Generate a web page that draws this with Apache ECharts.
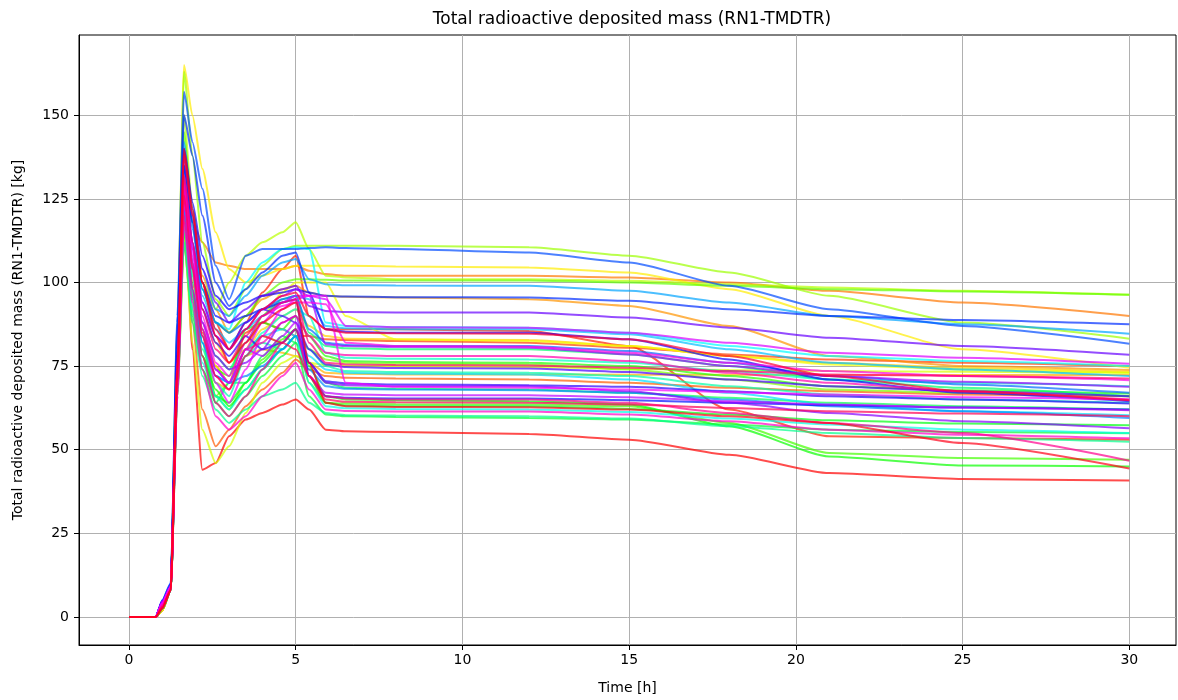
<!DOCTYPE html>
<html>
<head>
<meta charset="utf-8">
<script src="https://cdn.jsdelivr.net/npm/echarts@6/dist/echarts.min.js"></script>
<style>html,body{margin:0;padding:0;background:#fff;overflow:hidden}#c{width:1178px;height:700px}</style>
</head>
<body>
<div id="c"></div>
<script>
// time points [h]
const times = [0, 0.8, 1.0, 1.25, 1.45, 1.65, 1.9, 2.2, 2.6, 3.0, 3.5, 4.0, 4.6, 5.0, 5.4, 5.9, 6.5, 8, 12, 15, 18, 21, 25, 30];
const xTicks = [0, 5, 10, 15, 20, 25, 30];
const yTicks = [0, 25, 50, 75, 100, 125, 150];

const r00 = [0,0,2,8,70,125,80,44,46,54,59,61,63.5,65,62,56,55.5,55.3,54.7,53,48.5,43,41.2,40.8];
const r01 = [0,0,2,9,75,135,118,100,88,80,88,97,104,108,90,86,86,86,85.5,81,62,54,53.5,53];
const r02 = [0,0,2,8,72,120,100,85,75,70,85,88,86,84,84,83,82.8,82.5,82,80.5,78.5,77,76,75];
const r03 = [0,0,2,8,68,112,88,62,51,56,63,68,73,77,74,72,71.5,71.3,71,70,68.5,67.5,66.5,66];
const r04 = [0,0,2,9,76,130,118,112,106,105,104,104,104,105,103.5,102.5,102,102,102,101.5,100,97.5,94,90];
const r05 = [0,0,2,9,80,140,120,102,92,85,90,95,98,99,97,96,95.7,95.5,95,93,87,78,75,73.8];
const r06 = [0,0,2,8,66,115,92,78,70,68,78,80,79,78,76,73,72.7,72.5,72.5,72.4,72.4,72.3,72.3,72.3];
const r07 = [0,0,2,8,70,125,105,92,82,76,80,86,90,92,87,84,83.2,83,82.8,81,78,76,74.5,73.3];
const r08 = [0,0,2,9,85,165,150,134,115,104,100,102,104,105,105,105,105,104.8,104.5,103,98,90,80,74.5];
const r09 = [0,0,2,8,74,128,104,86,75,70,80,90,97,100,100,100,90,83,82.5,81,78,75.5,74,73];
const r10 = [0,0,2,8,68,115,82,56,46,51,61,70,76,78,76,75.3,75,75,74.7,74.2,73.8,73.5,73.3,73];
const r11 = [0,0,2.5,9,82,150,122,100,92,100,108,112,115,118,110,102,101.5,101,101,100.5,99.5,98.5,97.5,96.3];
const r12 = [0,0,2.5,9,86,163,138,112,95,90,98,105,110,111,111,111,111,111,110.5,108,103,96,88,83.2];
const r13 = [0,0,2.5,8,72,128,102,84,66,70,80,84,82,86,80,77,76,75.7,75.5,74,71,68,67,66];
const r14 = [0,0,2.5,9,80,145,118,98,88,85,90,96,100,101,101,100.8,100.6,100.6,100.6,100,99,98,97.3,96.3];
const r15 = [0,0,2.5,8,70,118,92,74,66,62,70,77,83,86,70,64,63.8,63.6,63.5,63,58,49,47.5,47];
const r16 = [0,0,2.5,8,74,132,104,86,74,72,86,88,86,90,84,78,76.5,76.2,76,75,72,69,67.8,66.8];
const r17 = [0,0,2.5,8,72,122,96,78,68,63,68,74,80,84,75,66,65,64.8,64.5,63.5,57,48,45.3,45];
const r18 = [0,0,2.5,8,70,120,95,78,66,64,70,76,82,86,72,64,63.2,63,63,62.2,60.5,58.8,57.8,57.3];
const r19 = [0,0,2.5,8,68,116,90,74,64,60,66,72,78,82,66,60.5,60,59.8,59.5,59,57.5,56,55.3,54.9];
const r20 = [0,0,2.5,8,72,124,98,82,64,70,70,78,84,82,76,70,68.5,68.2,68,67,65.5,64,63,62];
const r21 = [0,0,2.5,8,74,130,106,88,78,74,82,90,95,96,85,81,80.3,80,80,78.5,75,71,68.5,66];
const r22 = [0,0,2.5,8,66,112,88,72,62,58,62,66,68,70,64,61,60.3,60.2,60,59.3,57,55,53.5,52.4];
const r23 = [0,0,2.5,8,70,120,96,80,70,66,78,82,80,84,80,75,73.5,73.2,73,72,69,66.5,65,64];
const r24 = [0,0,2.5,8,72,126,102,84,74,70,78,85,90,92,90,79,77.5,77.2,77,76,73.5,71,70,69];
const r25 = [0,0,3,8,68,118,92,76,66,62,68,74,80,84,70,63,62.4,62.2,62,61.3,59.3,57.5,56,55];
const r26 = [0,0,3,9,80,140,118,98,88,86,100,106,110,110.5,110,88,87,86.7,86.5,85,81,78,76.5,75];
const r27 = [0,0,3,8,70,122,98,82,72,70,80,84,86,84,78,74,73,72.7,72.5,71,67,63.5,61.5,60.3];
const r28 = [0,0,3,9,76,134,112,96,86,82,86,90,94,96,95,87,86.3,86,86,84.5,80,76,74,72];
const r29 = [0,0,3,9,80,142,122,104,92,90,96,102,106,107,101,99.5,99.2,99.1,99,97.5,94,90,87.5,84.7];
const r30 = [0,0,3,8,70,122,98,82,72,70,72,75,80,84,74,69,68.2,68,67.8,67,65,63,61.5,59.5];
const r31 = [0,0,4,9,76,135,116,98,88,85,88,92,95,96,86,82,81.3,81,81,79.5,76,72,69.5,67];
const r32 = [0,0,5,10,90,157,142,128,105,95,108,110,110,110,110.3,110.5,110.3,110,109,106,99,92,87,81.7];
const r33 = [0,0,5,10,88,150,138,120,100,93,98,103,108,109,97,96,95.8,95.6,95.5,94.5,92,90,88.8,87.5];
const r34 = [0,0,4.5,9,76,135,118,100,90,88,90,92,94,95,72,66,65.5,65.3,65.3,64.8,64,63.3,62.6,62];
const r35 = [0,0,4.5,9,80,140,124,108,96,92,94,96,97,98,97,86,85.3,85,85,83,77,71,67,64.5];
const r36 = [0,0,4.5,9,74,128,110,92,82,78,84,80,82,86,76,70.5,69.8,69.5,69.3,68.8,67.5,66,65,63.8];
const r37 = [0,0,4.5,9,74,130,112,94,84,80,88,92,90,88,80,75.5,74.7,74.4,74.3,73.2,71,69,67.5,66];
const r38 = [0,0,4.5,9,78,138,120,104,94,88,92,96,98,99,93,91.5,91.2,91,91,89.5,86.5,83.5,81,78.4];
const r39 = [0,0,4.5,9,72,126,106,88,78,74,76,80,88,90,76,70,69.3,69,69,67.5,64,61,58.5,56.4];
const r40 = [0,0,4.5,9,74,132,112,94,84,80,86,92,96,98,96,81.5,81,80.7,80.5,78.5,75,72,70.3,68.8];
const r41 = [0,0,4.5,9,70,124,104,86,74,70,80,78,84,88,72,67,66.5,66.3,66.3,65.7,64.5,63.5,62.6,61.8];
const r42 = [0,0,4,9,72,128,108,88,74,70,80,88,94,96,96,95,87,86.6,86.5,85,82,79,77.5,75.7];
const r43 = [0,0,4,9,70,125,104,84,70,64,74,84,92,95,96,96,70,68.8,68.5,68,67.2,66.5,65.7,65];
const r44 = [0,0,4,9,74,130,110,90,76,72,82,90,93,94,94,93.5,82,81,80.8,79,76,73.5,72,70.8];
const r45 = [0,0,3.5,8,66,118,94,74,60,56,60,66,72,76,68,62,61.6,61.4,61.4,60.5,58.5,56,54.5,53.4];
const r46 = [0,0,3.5,8,72,128,106,86,72,68,80,82,88,90,84,79,78.3,78,78,76.5,73,70,67.5,65];
const r47 = [0,0,3,8,68,120,98,78,64,60,66,74,82,86,72,66,65.3,65,65,64,61,58,55,46.7];
const r48 = [0,0,3,8,74,132,112,92,80,76,84,90,94,95,82,76,75.5,75.3,75.2,74.5,73.5,72.5,72,71.3];
const r49 = [0,0,3,8,70,126,104,84,72,68,78,84,82,80,72,65,64.3,64.2,64,63.5,62.5,61.5,60.8,60];
const r50 = [0,0,2.5,8,76,138,120,100,86,80,86,92,96,97,90,86,85,84.8,84.7,83,78,72,67.5,64.8];
const r51 = [0,0,2.5,8,74,140,122,100,84,76,82,88,92,94,76,64,63,62.8,62.7,62,60,58,52,44.4];

const runs = [r00,r01,r02,r03,r04,r05,r06,r07,r08,r09,r10,r11,r12,r13,r14,r15,r16,r17,r18,r19,
  r20,r21,r22,r23,r24,r25,r26,r27,r28,r29,r30,r31,r32,r33,r34,r35,r36,r37,r38,r39,
  r40,r41,r42,r43,r44,r45,r46,r47,r48,r49,r50,r51];

// matplotlib 'hsv' colormap
const HSV = {
  r: [[0,1],[0.158730,1],[0.174603,0.96875],[0.333333,0.03125],[0.349206,0],[0.666667,0],[0.682540,0.03125],[0.841270,0.96875],[0.857143,1],[1,1]],
  g: [[0,0],[0.158730,0.9375],[0.174603,1],[0.507937,1],[0.666667,0.0625],[0.682540,0],[1,0]],
  b: [[0,0],[0.333333,0],[0.349206,0.0625],[0.507937,1],[0.841270,1],[0.857143,0.9375],[1,0.09375]]
};
function ch(seg, x) {
  for (let k = 1; k < seg.length; k++) {
    if (x <= seg[k][0]) {
      const [x0, y0] = seg[k-1], [x1, y1] = seg[k];
      return y0 + (y1 - y0) * (x - x0) / (x1 - x0);
    }
  }
  return seg[seg.length-1][1];
}
function cmap(x) {
  return 'rgb(' + Math.round(255*ch(HSV.r,x)) + ',' + Math.round(255*ch(HSV.g,x)) + ',' + Math.round(255*ch(HSV.b,x)) + ')';
}

const font = 'DejaVu Sans';
const series = runs.map((vals, i) => ({
  type: 'line',
  data: times.map((t, k) => [t, vals[k]]),
  showSymbol: false,
  symbol: 'none',
  silent: true,
  animation: false,
  smooth: 0.2,
  smoothMonotone: 'x',
  lineStyle: { width: 2, color: cmap(i / (runs.length - 1)), opacity: 0.7 },
  z: 2 + i
}));

const chart = echarts.init(document.getElementById('c'), null, { renderer: 'canvas' });
chart.setOption({
  animation: false,
  backgroundColor: '#fff',
  title: {
    text: 'Total radioactive deposited mass (RN1-TMDTR)',
    left: 627, top: 6, textAlign: 'center',
    textStyle: { fontFamily: font, fontSize: 17, fontWeight: 'normal', color: '#000' }
  },
  grid: { left: 79, right: 2, top: 35, bottom: 52, show: true, borderColor: '#000', borderWidth: 1, backgroundColor: 'transparent' },
  xAxis: {
    type: 'value', min: -1.5, max: 31.4,
    name: 'Time [h]', nameLocation: 'middle', nameGap: 36,
    nameTextStyle: { fontFamily: font, fontSize: 14, color: '#000' },
    axisLine: { show: true, onZero: false, lineStyle: { color: '#000', width: 1 } },
    axisTick: { show: true, length: 5, customValues: xTicks, lineStyle: { color: '#000' } },
    axisLabel: { customValues: xTicks, margin: 8, fontFamily: font, fontSize: 14, color: '#000' },
    splitLine: { show: true, lineStyle: { color: '#b0b0b0', width: 1 } }
  },
  yAxis: {
    type: 'value', min: -8.4, max: 174,
    name: 'Total radioactive deposited mass (RN1-TMDTR) [kg]', nameLocation: 'middle', nameGap: 54,
    nameTextStyle: { fontFamily: font, fontSize: 14, color: '#000' },
    axisLine: { show: true, onZero: false, lineStyle: { color: '#000', width: 1 } },
    axisTick: { show: true, length: 5, customValues: yTicks, lineStyle: { color: '#000' } },
    axisLabel: { customValues: yTicks, margin: 10, fontFamily: font, fontSize: 14, color: '#000' },
    splitLine: { show: true, lineStyle: { color: '#b0b0b0', width: 1 } }
  },
  series: series
});
</script>
</body>
</html>
